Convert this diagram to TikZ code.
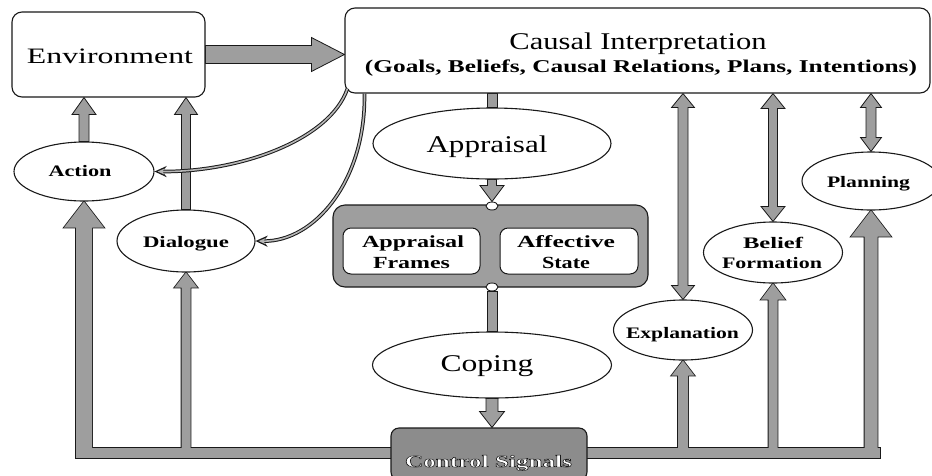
\documentclass[tikz,border=0pt]{standalone}
\usepackage{fontspec}
\setmainfont{Liberation Serif}
\usetikzlibrary{arrows.meta,calc,shapes.geometric}
\pgfdeclarelayer{bg}\pgfdeclarelayer{fg}\pgfsetlayers{bg,main,fg}
\definecolor{blkgray}{gray}{0.62}
\definecolor{csgray}{gray}{0.55}
\definecolor{linec}{gray}{0.1}
\newcommand\fw[2]{\resizebox{#1pt}{\height}{#2}}
\newcommand\outl[1]{\textcolor{white}{\special{pdf:literal direct 2 Tr 0.45 w 0.1 G}#1\special{pdf:literal direct 0 Tr}}}
% vertical block arrow: base, tip, shaft half width, head half width, head length
\newcommand\vblk[6][blk]{%
  \path[#1] let \p1=#2, \p2=#3, \n1={ifthenelse(\y2>\y1,1,-1)} in
   ({\x1-#4},\y1) -- ({\x1-#4},{\y2-(\n1)*#6}) -- ({\x1-#5},{\y2-(\n1)*#6}) -- (\x1,\y2)
   -- ({\x1+#5},{\y2-(\n1)*#6}) -- ({\x1+#4},{\y2-(\n1)*#6}) -- ({\x1+#4},\y1) -- cycle;}
% vertical double block arrow
\newcommand\dblk[6][blk]{%
  \path[#1] let \p1=#2, \p2=#3, \n1={ifthenelse(\y2>\y1,1,-1)} in
   (\x1,\y1) -- ({\x1+#5},{\y1+(\n1)*#6}) -- ({\x1+#4},{\y1+(\n1)*#6}) -- ({\x1+#4},{\y2-(\n1)*#6})
   -- ({\x1+#5},{\y2-(\n1)*#6}) -- (\x1,\y2) -- ({\x1-#5},{\y2-(\n1)*#6}) -- ({\x1-#4},{\y2-(\n1)*#6})
   -- ({\x1-#4},{\y1+(\n1)*#6}) -- ({\x1-#5},{\y1+(\n1)*#6}) -- cycle;}
\begin{document}
\begin{tikzpicture}[x=1pt,y=-1pt,
  box/.style={draw=linec, line width=1.1pt, fill=white, inner sep=0pt},
  ell/.style={ellipse, draw=linec, line width=1.1pt, fill=white, inner sep=0pt},
  blk/.style={fill=blkgray, draw=linec, line width=0.8pt},
  blkout/.style={draw=linec, line width=1.6pt},
  blkin/.style={fill=blkgray},
  lbl/.style={anchor=base, inner sep=0pt},
  curvout/.style={draw=linec, line width=3.6pt, -{Stealth[length=12pt,width=11pt]}},
  curvin/.style={draw=blkgray!75, line width=1.6pt, shorten >=3pt, -{Stealth[length=7pt,width=6pt]}},
  bfont/.style={font=\fontsize{16}{16}\selectfont\bfseries},
  bfontb/.style={font=\fontsize{17}{17}\selectfont\bfseries},
  rfont/.style={font=\fontsize{24}{24}\selectfont}]
\useasboundingbox (0,0) rectangle (932,475);
\begin{scope}
\clip (0,0) rectangle (932,475);
\node[box, rounded corners=10pt, minimum width=193pt, minimum height=85pt] (env) at (108.5,54.5) {};
\node[box, rounded corners=10pt, minimum width=585pt, minimum height=85pt] (ci) at (637.5,50.5) {};
\node[ell, minimum width=238pt, minimum height=71pt] (appr) at (492,143.5) {};
\node[box, fill=blkgray, rounded corners=12pt, minimum width=315pt, minimum height=82pt] (cont) at (490.5,246) {};
\node[box, line width=1pt, rounded corners=8pt, minimum width=137pt, minimum height=46pt] (frames) at (411.5,251) {};
\node[box, line width=1pt, rounded corners=8pt, minimum width=138pt, minimum height=46pt] (affect) at (569,251) {};
\node[ell, line width=0.9pt, minimum width=12pt, minimum height=8pt] (c1) at (492,206) {};
\node[ell, line width=0.9pt, minimum width=12pt, minimum height=8pt] (c2) at (492,287) {};
\node[ell, minimum width=239pt, minimum height=66pt] (cop) at (492,365) {};
\node[box, fill=csgray, rounded corners=8pt, minimum width=196pt, minimum height=52pt] (cs) at (489,454) {};
\node[ell, minimum width=140pt, minimum height=59pt] (act) at (84,171.5) {};
\node[ell, minimum width=138pt, minimum height=62pt] (dia) at (186,241) {};
\node[ell, minimum width=139pt, minimum height=60pt] (expl) at (683,330) {};
\node[ell, minimum width=139pt, minimum height=61pt] (bel) at (773,252.5) {};
\node[ell, minimum width=138pt, minimum height=58pt] (plan) at (871,181) {};
\end{scope}
\coordinate (barL) at (76,448);
\coordinate (barR) at (880,458);
\coordinate (barmid) at (478,453);
\begin{pgfonlayer}{bg}
  \foreach \s in {blkout,blkin}{
    \path[\s] (barL) rectangle (barR);
    \vblk[\s]{(act.south |- barmid)}{(act.south)}{8pt}{20pt}{26pt}
    \vblk[\s]{(dia.south |- barmid)}{(dia.south)}{4.5pt}{11.5pt}{15pt}
    \vblk[\s]{(expl.south |- barmid)}{(expl.south)}{5pt}{11.5pt}{15pt}
    \vblk[\s]{(bel.south |- barmid)}{(bel.south)}{4.5pt}{12pt}{16pt}
    \vblk[\s]{(plan.south |- barmid)}{(plan.south)}{6.5pt}{20pt}{26pt}
  }
  \dblk{(expl.north |- ci.south)}{(expl.north)}{5pt}{11.5pt}{14pt}
  \dblk{(bel.north |- ci.south)}{(bel.north)}{4.5pt}{12pt}{15pt}
  \dblk{(plan.north |- ci.south)}{(plan.north)}{5pt}{10.5pt}{14pt}
  \vblk{(act.north)}{(env.south)}{5pt}{12pt}{17pt}
  \vblk{(dia.north)}{(env.south)}{4.5pt}{11.5pt}{17pt}
  \vblk{(appr.north |- ci.south)}{(appr.north)}{5pt}{5pt}{0pt}
  \vblk{(appr.south)}{(c1.north)}{4.5pt}{12pt}{16pt}
  \vblk{(c2.south)}{(cop.north)}{5pt}{5pt}{0pt}
  \vblk{(cop.south)}{(cs.north)}{6pt}{12.5pt}{16pt}
  \path[blk] let \p1=(env.east), \p2=(ci.west) in
    (\x1,{\y1+9pt}) -- ({\x2-33pt},{\y1+9pt}) -- ({\x2-33pt},{\y1+17pt}) -- (\x2,\y1)
    -- ({\x2-33pt},{\y1-17pt}) -- ({\x2-33pt},{\y1-9pt}) -- (\x1,{\y1-9pt}) -- cycle;
\end{pgfonlayer}
\begin{pgfonlayer}{fg}
  \draw[curvout] ($(ci.south west)+(3,-5)$) .. controls (330,140) and (240,172) .. (act.east);
  \draw[curvin] ($(ci.south west)+(3,-5)$) .. controls (330,140) and (240,172) .. (act.east);
  \draw[curvout] ($(ci.south west)+(20,0)$) .. controls (366,180) and (315,242) .. (dia.east);
  \draw[curvin] ($(ci.south west)+(20,0)$) .. controls (366,180) and (315,242) .. (dia.east);
  \node[lbl, font=\fontsize{22}{22}\selectfont] (tEnv) at (110,63) {\fw{166}{Environment}};
  \node[lbl, rfont] (tCI1) at (638,49) {\fw{257}{Causal Interpretation}};
  \node[lbl, font=\fontsize{18}{18}\selectfont\bfseries] (tCI2) at (641,72) {\fw{552}{(Goals, Beliefs, Causal Relations, Plans, Intentions)}};
  \node[lbl, rfont] (tAppr) at (487,152) {\fw{121}{Appraisal}};
  \node[lbl, rfont] (tCop) at (487,371) {\fw{93}{Coping}};
  \node[lbl, bfontb] (tAF1) at (413,247) {\fw{102}{Appraisal}};
  \node[lbl, bfontb] (tAF2) at (411.5,268) {\fw{77}{Frames}};
  \node[lbl, bfontb] (tAS1) at (566,247) {\fw{98}{Affective}};
  \node[lbl, bfontb] (tAS2) at (566,268) {\fw{48}{State}};
  \node[lbl, bfont] (tAct) at (80,176) {\fw{63}{Action}};
  \node[lbl, bfont] (tDia) at (186,247) {\fw{86}{Dialogue}};
  \node[lbl, bfont] (tExp) at (682.5,338) {\fw{113}{Explanation}};
  \node[lbl, bfont] (tBel1) at (773,248) {\fw{60}{Belief}};
  \node[lbl, bfont] (tBel2) at (772,268) {\fw{100}{Formation}};
  \node[lbl, bfont] (tPlan) at (868.5,187) {\fw{83}{Planning}};
  \node[lbl, bfontb] (tCS) at (488.5,467) {\fw{167}{\outl{Control Signals}}};
\end{pgfonlayer}
\end{tikzpicture}
\end{document}
